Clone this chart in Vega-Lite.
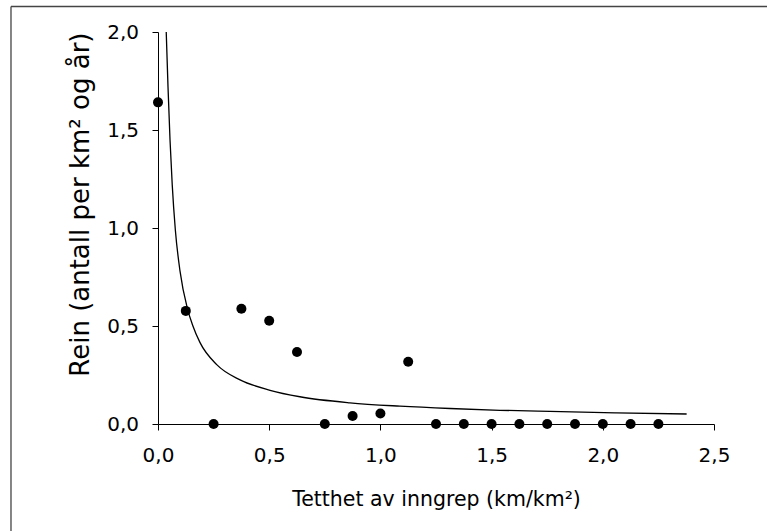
{
  "$schema": "https://vega.github.io/schema/vega-lite/v6.json",
  "width": 556,
  "height": 392,
  "autosize": {"type": "none"},
  "padding": {"left": 158, "top": 32, "right": 53, "bottom": 107},
  "background": "white",
  "config": {"view": {"stroke": null}, "font": "DejaVu Sans"},
  "datasets": {
    "obs": [
      {"x": 0, "y": 1.641},
      {"x": 0.125, "y": 0.577},
      {"x": 0.25, "y": 0},
      {"x": 0.375, "y": 0.588},
      {"x": 0.5, "y": 0.527},
      {"x": 0.625, "y": 0.367},
      {"x": 0.75, "y": 0},
      {"x": 0.875, "y": 0.041},
      {"x": 1.0, "y": 0.054},
      {"x": 1.125, "y": 0.318},
      {"x": 1.25, "y": 0},
      {"x": 1.375, "y": 0},
      {"x": 1.5, "y": 0},
      {"x": 1.625, "y": 0},
      {"x": 1.75, "y": 0},
      {"x": 1.875, "y": 0},
      {"x": 2.0, "y": 0},
      {"x": 2.125, "y": 0},
      {"x": 2.25, "y": 0}
    ],
    "fit": [
      {"x": 0.037, "y": 2.0},
      {"x": 0.045, "y": 1.72},
      {"x": 0.054, "y": 1.45},
      {"x": 0.064, "y": 1.22},
      {"x": 0.078, "y": 0.99},
      {"x": 0.099, "y": 0.78},
      {"x": 0.132, "y": 0.59},
      {"x": 0.157, "y": 0.5},
      {"x": 0.189, "y": 0.415},
      {"x": 0.264, "y": 0.303},
      {"x": 0.369, "y": 0.225},
      {"x": 0.504, "y": 0.172},
      {"x": 0.638, "y": 0.139},
      {"x": 0.863, "y": 0.108},
      {"x": 1.088, "y": 0.091},
      {"x": 1.313, "y": 0.079},
      {"x": 1.538, "y": 0.07},
      {"x": 1.763, "y": 0.064},
      {"x": 2.06, "y": 0.057},
      {"x": 2.377, "y": 0.051}
    ]
  },
  "layer": [
    {
      "data": {"values": [{}]},
      "mark": {"type": "rule", "color": "#444444", "strokeWidth": 1.3},
      "encoding": {
        "x": {"datum": -0.661, "type": "quantitative", "scale": {"domain": [0, 2.5], "nice": false, "zero": false}, "title": "Tetthet av inngrep (km/km²)"},
        "x2": {"datum": 2.76},
        "y": {"datum": 2.13, "type": "quantitative", "scale": {"domain": [0, 2.0], "nice": false, "zero": false}, "title": "Rein (antall per km² og år)"}
      }
    },
    {
      "data": {"values": [{}]},
      "mark": {"type": "rule", "color": "#444444", "strokeWidth": 1.3},
      "encoding": {
        "x": {"datum": -0.661, "type": "quantitative", "scale": {"domain": [0, 2.5], "nice": false, "zero": false}, "title": "Tetthet av inngrep (km/km²)"},
        "y": {"datum": -0.56, "type": "quantitative", "scale": {"domain": [0, 2.0], "nice": false, "zero": false}, "title": "Rein (antall per km² og år)"},
        "y2": {"datum": 2.13}
      }
    },
    {
      "data": {"name": "fit"},
      "mark": {"type": "line", "color": "black", "strokeWidth": 1.3, "interpolate": "monotone"},
      "encoding": {
        "x": {"field": "x", "type": "quantitative", "scale": {"domain": [0, 2.5], "nice": false, "zero": false}, "title": "Tetthet av inngrep (km/km²)"},
        "y": {"field": "y", "type": "quantitative", "scale": {"domain": [0, 2.0], "nice": false, "zero": false}, "title": "Rein (antall per km² og år)"}
      }
    },
    {
      "data": {"name": "obs"},
      "mark": {"type": "circle", "color": "black", "opacity": 1, "size": 100},
      "encoding": {
        "x": {
          "field": "x", "type": "quantitative",
          "scale": {"domain": [0, 2.5], "nice": false, "zero": false},
          "title": "Tetthet av inngrep (km/km²)",
          "axis": {
            "values": [0, 0.5, 1, 1.5, 2, 2.5],
            "labelExpr": "replace(format(datum.value, '.1f'), '.', ',')",
            "grid": false,
            "domainColor": "black", "domainWidth": 1,
            "tickColor": "black", "tickWidth": 1, "tickSize": 6,
            "labelFont": "DejaVu Sans", "labelFontSize": 20, "labelColor": "black", "labelPadding": 15, "labelFlush": false,
            "titleFont": "DejaVu Sans", "titleFontSize": 20.5, "titleColor": "black", "titleFontWeight": "normal", "titlePadding": 24
          }
        },
        "y": {
          "field": "y", "type": "quantitative",
          "scale": {"domain": [0, 2.0], "nice": false, "zero": false},
          "title": "Rein (antall per km² og år)",
          "axis": {
            "values": [0, 0.5, 1, 1.5, 2],
            "labelExpr": "replace(format(datum.value, '.1f'), '.', ',')",
            "grid": false,
            "domainColor": "black", "domainWidth": 1,
            "tickColor": "black", "tickWidth": 1, "tickSize": 6,
            "labelFont": "DejaVu Sans", "labelFontSize": 20, "labelColor": "black", "labelPadding": 13.5, "labelFlush": false,
            "titleFont": "DejaVu Sans", "titleFontSize": 26, "titleColor": "black", "titleFontWeight": "normal", "titlePadding": 13,
            "titleAnchor": "end"
          }
        }
      }
    }
  ]
}
